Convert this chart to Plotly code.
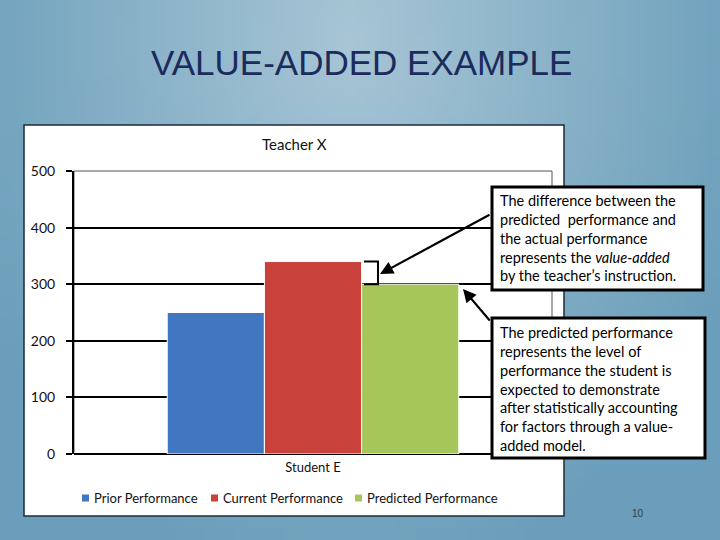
import base64, struct, zlib
import plotly.graph_objects as go

# ---- data ----
categories = ["Student E"]
series_names = ["Prior Performance", "Current Performance", "Predicted Performance"]
prior_values = [250]
current_values = [340]
predicted_values = [300]
series_colors = ["#4177c0", "#c8413a", "#a6c65a"]
y_ticks = [0, 100, 200, 300, 400, 500]

W, H = 720, 540
def px(x): return x / W
def py(y): return 1 - y / H

# ---- background radial gradient as a tiny PNG ----
def make_png(w, h):
    light = (168, 198, 214)
    dark = (106, 158, 186)
    rows = b""
    for j in range(h):
        row = b"\x00"
        for i in range(w):
            xx = (i + 0.5) / w * W
            yy = (j + 0.5) / h * H
            d = (((xx - 350) / 430) ** 2 + ((yy - 40) / 560) ** 2) ** 0.5
            t = min(1.0, d)
            c = [int(light[k] + (dark[k] - light[k]) * t) for k in range(3)]
            row += bytes(c)
        rows += row
    def chunk(tag, data):
        return struct.pack(">I", len(data)) + tag + data + struct.pack(">I", zlib.crc32(tag + data) & 0xffffffff)
    png = b"\x89PNG\r\n\x1a\n"
    png += chunk(b"IHDR", struct.pack(">IIBBBBB", w, h, 8, 2, 0, 0, 0))
    png += chunk(b"IDAT", zlib.compress(rows, 9))
    png += chunk(b"IEND", b"")
    return "data:image/png;base64," + base64.b64encode(png).decode()

FONT = "Lato"
fig = go.Figure()
for name, vals, col in zip(series_names, [prior_values, current_values, predicted_values], series_colors):
    fig.add_trace(go.Bar(x=categories, y=vals, name=name, marker=dict(color=col, line=dict(color="white", width=1)),
                         showlegend=False))

shapes = []
# chart box
shapes.append(dict(type="rect", xref="paper", yref="paper", x0=px(24), x1=px(564), y0=py(516), y1=py(125),
                   fillcolor="white", line=dict(color="#1b2b3b", width=1.5), layer="below"))
# plot area border (thin)
shapes.append(dict(type="rect", xref="paper", yref="paper", x0=px(74), x1=px(552), y0=py(454), y1=py(171),
                   fillcolor="rgba(0,0,0,0)", line=dict(color="#555555", width=1), layer="below"))
# bracket between current and predicted
shapes.append(dict(type="path", xref="paper", yref="y",
                   path=f"M {px(364)},{current_values[0]} L {px(378)},{current_values[0]} L {px(378)},{predicted_values[0]} L {px(364)},{predicted_values[0]}",
                   line=dict(color="black", width=2), layer="above"))
# text boxes
shapes.append(dict(type="rect", xref="paper", yref="paper", x0=px(492), x1=px(703), y0=py(290), y1=py(187),
                   fillcolor="white", line=dict(color="black", width=3), layer="above"))
shapes.append(dict(type="rect", xref="paper", yref="paper", x0=px(492), x1=px(705), y0=py(458), y1=py(318),
                   fillcolor="white", line=dict(color="black", width=3), layer="above"))
# custom legend squares
legend_x = [85, 214, 358]
for lx, col in zip(legend_x, series_colors):
    shapes.append(dict(type="rect", xref="paper", yref="paper", x0=px(lx - 3), x1=px(lx + 4), y0=py(501.5), y1=py(494.5),
                       fillcolor=col, line=dict(width=0), layer="above"))

annotations = []
annotations.append(dict(text="VALUE-ADDED EXAMPLE", xref="paper", yref="paper", x=px(361), y=py(62),
                        showarrow=False, font=dict(family="Liberation Sans", size=35, color="#1a2b5c"),
                        xanchor="center", yanchor="middle"))
annotations.append(dict(text="Teacher X", xref="paper", yref="paper", x=px(294), y=py(144),
                        showarrow=False, font=dict(family=FONT, size=15, color="#111111"),
                        xanchor="center", yanchor="middle"))
for lx, name in zip(legend_x, series_names):
    annotations.append(dict(text=name, xref="paper", yref="paper", x=px(lx + 7), y=py(498),
                            showarrow=False, font=dict(family=FONT, size=13, color="#111111"),
                            xanchor="left", yanchor="middle"))
box1 = ("The difference between the<br>predicted  performance and<br>the actual performance<br>"
        "represents the <i>value-added</i><br>by the teacher’s instruction.")
box2 = ("The predicted performance<br>represents the level of<br>performance the student is<br>"
        "expected to demonstrate<br>after statistically accounting<br>for factors through a value-<br>added model.")
annotations.append(dict(text=box1, xref="paper", yref="paper", x=px(498), y=py(238), showarrow=False,
                        align="left", xanchor="left", yanchor="middle",
                        font=dict(family=FONT, size=14.5, color="black")))
annotations.append(dict(text=box2, xref="paper", yref="paper", x=px(498), y=py(389), showarrow=False,
                        align="left", xanchor="left", yanchor="middle",
                        font=dict(family=FONT, size=14.5, color="black")))
# arrows
annotations.append(dict(text="", xref="paper", yref="paper", x=px(380), y=py(274), ax=491 - 380, ay=214 - 274,
                        showarrow=True, arrowhead=2, arrowsize=1.2, arrowwidth=2.2, arrowcolor="black", standoff=0))
annotations.append(dict(text="", xref="paper", yref="paper", x=px(463), y=py(289), ax=491 - 463, ay=322 - 289,
                        showarrow=True, arrowhead=2, arrowsize=1.2, arrowwidth=2.2, arrowcolor="black", standoff=0))
annotations.append(dict(text="10", xref="paper", yref="paper", x=px(638), y=py(513), showarrow=False,
                        font=dict(family="Liberation Sans", size=10, color="#2a3d55"), xanchor="center", yanchor="middle"))

fig.update_layout(
    width=W, height=H, margin=dict(l=0, r=0, t=0, b=0, pad=0, autoexpand=False), autosize=False,
    paper_bgcolor="#7aa8c0", plot_bgcolor="rgba(0,0,0,0)",
    barmode="group", bargap=0.39, bargroupgap=0,
    showlegend=False,
    images=[dict(source=make_png(72, 54), xref="paper", yref="paper", x=0, y=1, sizex=1, sizey=1,
                 sizing="stretch", xanchor="left", yanchor="top", layer="below")],
    shapes=shapes, annotations=annotations,
    xaxis=dict(domain=[px(74), px(552)], showgrid=False, showline=False, zeroline=False, automargin=False,
               tickfont=dict(family=FONT, size=13, color="#111111"), ticks="", ticklabelstandoff=4),
    yaxis=dict(domain=[py(454), py(171)], range=[0, 500], tickvals=y_ticks, automargin=False,
               showgrid=True, gridcolor="black", gridwidth=2, zeroline=True, zerolinecolor="black", zerolinewidth=2,
               showline=True, linecolor="black", linewidth=2, ticks="outside", ticklen=6, tickwidth=2,
               tickcolor="black", ticklabelstandoff=8,
               tickfont=dict(family=FONT, size=14, color="#111111")),
)
fig.write_html("out.html", config={"displayModeBar": False, "responsive": False},
               post_script="document.body.style.margin='0';document.body.style.overflow='hidden';")
